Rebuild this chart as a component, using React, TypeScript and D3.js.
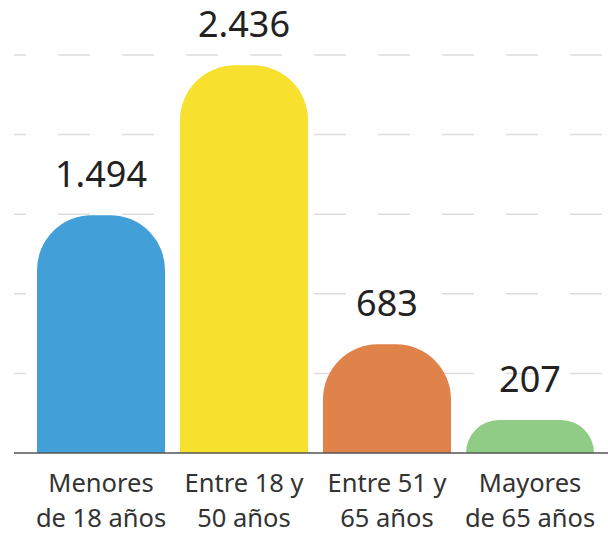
import React from "react";
import * as d3 from "d3";

const categories: string[][] = [
  ["Menores", "de 18 años"],
  ["Entre 18 y", "50 años"],
  ["Entre 51 y", "65 años"],
  ["Mayores", "de 65 años"],
];
const values: number[] = [1494, 2436, 683, 207];
const valueLabels: string[] = ["1.494", "2.436", "683", "207"];
const colors: string[] = ["#429FD8", "#F7E12E", "#DF834A", "#90CC86"];
const gridTicks: number[] = [500, 1000, 1500, 2000, 2500];

const W = 608;
const H = 535;
const FONT = "'Noto Sans', 'Open Sans', sans-serif";

export default function App() {
  const x = d3
    .scaleBand<number>()
    .domain(d3.range(values.length))
    .range([29.5, 601.5])
    .paddingInner(15 / 143)
    .paddingOuter(7.5 / 143);
  const y = d3.scaleLinear().domain([0, 2500]).range([453, 55]);

  const barPath = (i: number) => {
    const x0 = x(i)!;
    const w = x.bandwidth();
    const y0 = y(0);
    const y1 = y(values[i]);
    const h = y0 - y1;
    const r = Math.min(55, h, w / 2);
    const p = d3.path();
    p.moveTo(x0, y0);
    p.lineTo(x0, y1 + r);
    p.arcTo(x0, y1, x0 + r, y1, r);
    p.lineTo(x0 + w - r, y1);
    p.arcTo(x0 + w, y1, x0 + w, y1 + r, r);
    p.lineTo(x0 + w, y0);
    p.closePath();
    return p.toString();
  };

  return (
    <svg
      width={W}
      height={H}
      style={{ position: "absolute", left: 0, top: 0, background: "#fff" }}
    >
      {gridTicks.map((t) => (
        <line
          key={t}
          x1={14}
          x2={W}
          y1={y(t)}
          y2={y(t)}
          stroke="#dddddd"
          strokeWidth={1.5}
          strokeDasharray="32 32"
          strokeDashoffset={20}
        />
      ))}
      {values.map((v, i) => (
        <path key={i} d={barPath(i)} fill={colors[i]} />
      ))}
      <line x1={14} x2={W} y1={y(0)} y2={y(0)} stroke="#555" strokeWidth={1.5} />
      {values.map((v, i) => (
        <text
          key={"v" + i}
          x={x(i)! + x.bandwidth() / 2}
          y={y(v) - 28}
          textAnchor="middle"
          fontFamily={FONT}
          fontSize={36}
          fill="#222"
        >
          {valueLabels[i]}
        </text>
      ))}
      {categories.map((lines, i) => (
        <text
          key={"c" + i}
          x={x(i)! + x.bandwidth() / 2}
          textAnchor="middle"
          fontFamily={FONT}
          fontSize={25.5}
          fill="#333"
        >
          {lines.map((l, j) => (
            <tspan key={j} x={x(i)! + x.bandwidth() / 2} y={492 + j * 35}>
              {l}
            </tspan>
          ))}
        </text>
      ))}
    </svg>
  );
}
